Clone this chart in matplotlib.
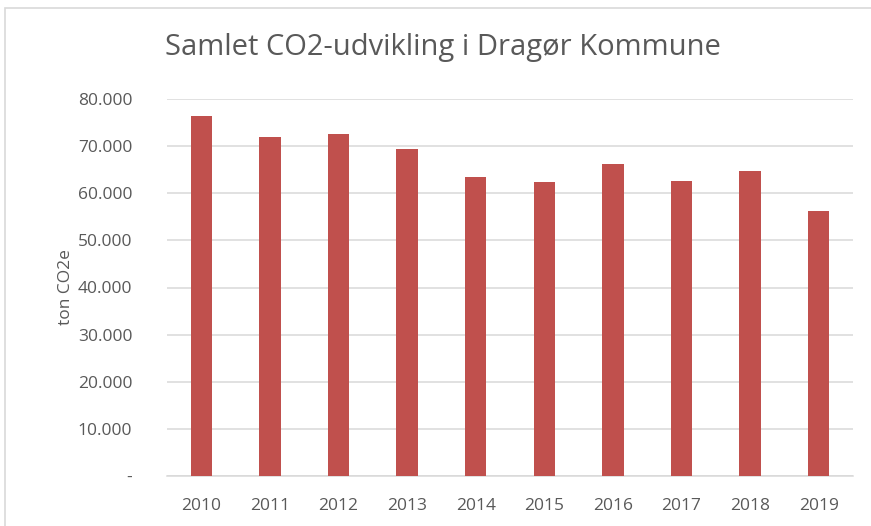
import matplotlib
matplotlib.use("Agg")
import matplotlib.pyplot as plt
from matplotlib.patches import Rectangle
from matplotlib.ticker import FuncFormatter

years = ["2010", "2011", "2012", "2013", "2014", "2015", "2016", "2017", "2018", "2019"]
co2_ton = [76400, 71900, 72600, 69400, 63400, 62300, 66200, 62500, 64700, 56300]
y_ticks = [0, 10000, 20000, 30000, 40000, 50000, 60000, 70000, 80000]

bar_color = "#C0504D"
text_color = "#595959"
grid_color = "#D9D9D9"

plt.rcParams['font.family'] = ['Open Sans', 'DejaVu Sans']

fig = plt.figure(figsize=(8.71, 5.26), dpi=100)
ax = fig.add_axes([167 / 871, 1 - 476 / 526, 686 / 871, (476 - 99) / 526])

# thin grey frame around the chart area
fig.patches.append(Rectangle((5 / 871, -0.05), 1.0, 1 - 8 / 526 + 0.05,
                             transform=fig.transFigure, fill=False,
                             edgecolor="#D9D9D9", linewidth=1.2))

x = range(len(years))
ax.bar(x, co2_ton, width=0.31, color=bar_color, zorder=3)

ax.set_xlim(-0.5, len(years) - 0.5)
ax.set_ylim(0, 80000)
ax.set_yticks(y_ticks)


def fmt(v, pos):
    if v == 0:
        return "-"
    return f"{int(v):,}".replace(",", ".")


ax.yaxis.set_major_formatter(FuncFormatter(fmt))
ax.set_xticks(list(x))
ax.set_xticklabels(years)

ax.grid(axis="y", color=grid_color, linewidth=1.1, zorder=0)
for side in ["top", "right", "left"]:
    ax.spines[side].set_visible(False)
ax.spines["bottom"].set_color(grid_color)
ax.spines["bottom"].set_linewidth(1.1)
ax.tick_params(axis="both", length=0, labelsize=12.5, colors=text_color)
ax.tick_params(axis="y", pad=25)
ax.tick_params(axis="x", pad=16)

ax.set_ylabel("ton CO2e", fontsize=12.5, color=text_color, labelpad=3)
fig.text(443 / 871, 1 - 48 / 526, "Samlet CO2-udvikling i Dragør Kommune",
         ha="center", va="center", fontsize=21, color=text_color)

fig.savefig("out.png", dpi=100)
